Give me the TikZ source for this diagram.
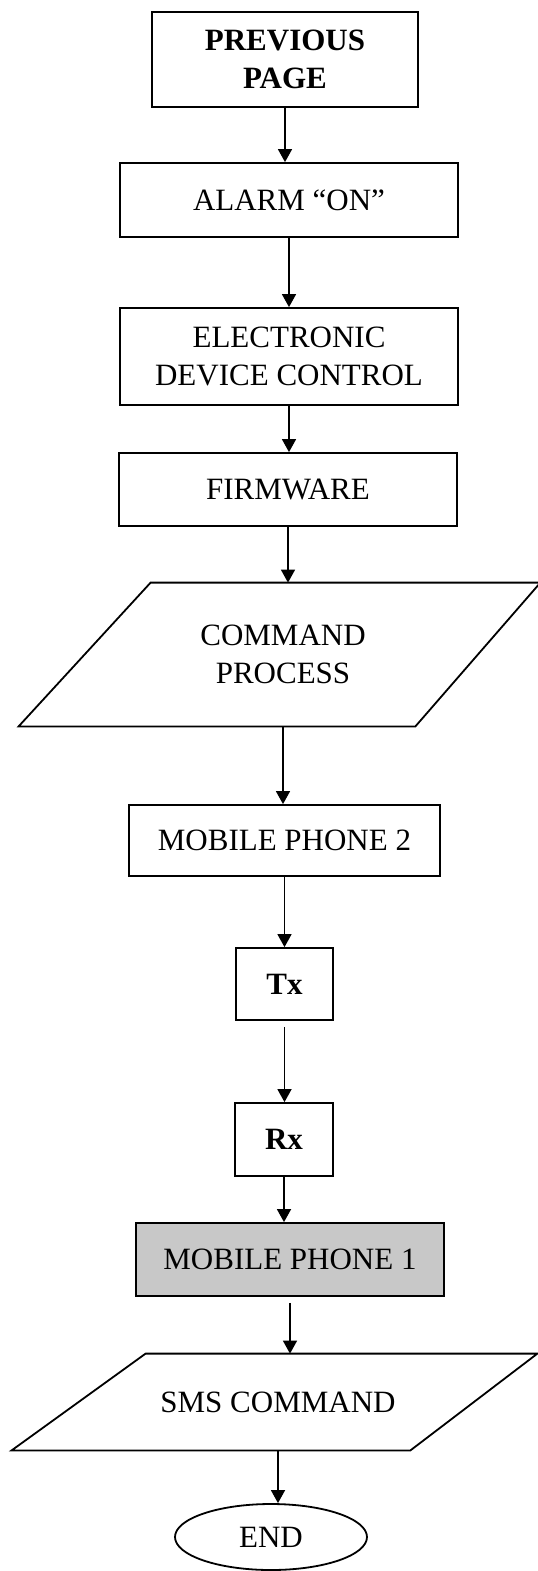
\documentclass[tikz,border=0pt]{standalone}
\usepackage{fontspec}
\setmainfont{Liberation Serif}
\usetikzlibrary{shapes.geometric, arrows.meta}
\definecolor{phonegray}{RGB}{200,200,200}

\begin{document}
\begin{tikzpicture}[x=0.5pt, y=-0.5pt,
    box/.style={rectangle, draw, line width=0.9pt, align=center, inner sep=2pt, font=\fontsize{15.5}{19}\selectfont},
    io/.style={rectangle, align=center, inner sep=2pt, font=\fontsize{15.5}{19}\selectfont},
    edge/.style={line width=0.9pt, line join=miter},
    flow/.style={-{Triangle[length=6.5pt, width=7pt]}, line width=0.8pt}]
    \useasboundingbox (0,0) rectangle (537,1571);

    % Draw nodes
    \node[box, minimum width=133pt, minimum height=47.5pt] (prev) at (285,59.5) {\textbf{PREVIOUS}\\\textbf{PAGE}};
    \node[box, minimum width=169pt, minimum height=37pt] (alarm) at (289,200) {ALARM “ON”};
    \node[box, minimum width=169pt, minimum height=48.5pt] (edc) at (289,356.5) {ELECTRONIC\\DEVICE CONTROL};
    \node[box, minimum width=169pt, minimum height=36.5pt] (firm) at (288,489.5) {FIRMWARE};
    \node[io, minimum width=132pt, minimum height=71.5pt] (cmd) at (283,654.5) {COMMAND\\PROCESS};
    \node[box, minimum width=155.5pt, minimum height=35.5pt] (mp2) at (284.5,840.5) {MOBILE PHONE 2};
    \node[box, minimum width=48.5pt, minimum height=36pt] (tx) at (284.5,984) {\textbf{Tx}};
    \node[box, minimum width=49pt, minimum height=36.5pt] (rx) at (284,1139.5) {\textbf{Rx}};
    \node[box, fill=phonegray, minimum width=154pt, minimum height=36.5pt] (mp1) at (290,1259.5) {MOBILE PHONE 1};
    \node[io, minimum width=132pt, minimum height=48pt] (sms) at (278,1402) {SMS COMMAND};
    \node[ellipse, draw, line width=0.9pt, inner sep=0pt, minimum width=96pt, minimum height=33pt, font=\fontsize{15.5}{19}\selectfont] (end) at (271,1537) {END};

    % Parallelograms
    \draw[edge] ([xshift=-66pt]cmd.south west) -- (cmd.south east) -- ([xshift=62.5pt]cmd.north east) -- (cmd.north west) -- cycle;
    \draw[edge] ([xshift=-67pt]sms.south west) -- (sms.south east) -- ([xshift=63.5pt]sms.north east) -- (sms.north west) -- cycle;

    % Draw connections
    \draw[flow] (prev) -- (prev |- alarm.north);
    \draw[flow] (alarm) -- (alarm |- edc.north);
    \draw[flow] (edc) -- (edc |- firm.north);
    \draw[flow] (firm) -- (firm |- cmd.north);
    \draw[flow] (cmd) -- (cmd |- mp2.north);
    \draw[flow] (mp2) -- (mp2 |- tx.north);
    \draw[flow, shorten <=3pt] (tx) -- (tx |- rx.north);
    \draw[flow] (rx) -- (rx |- mp1.north);
    \draw[flow, shorten <=3pt] (mp1) -- (mp1 |- sms.north);
    \draw[flow] (sms) -- (sms |- end.north);
\end{tikzpicture}
\end{document}
